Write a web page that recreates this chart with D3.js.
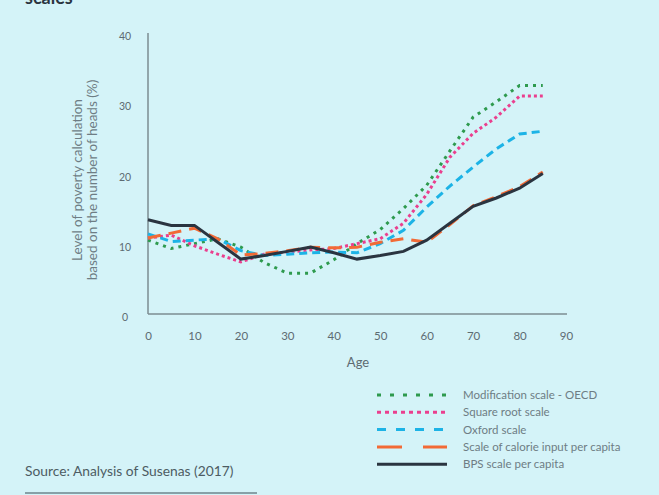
<!DOCTYPE html>
<html>
<head>
<meta charset="utf-8">
<script src="https://cdn.jsdelivr.net/npm/d3@7"></script>
<style>
  body { margin: 0; background: #d4f3f8; }
  svg { display: block; font-family: Lato, "Open Sans", sans-serif; }
</style>
</head>
<body>
<script>
// age groups (x) and poverty rates per scale (%)
var ages = [0, 5, 10, 15, 20, 25, 30, 35, 40, 45, 50, 55, 60, 65, 70, 75, 80, 85];

var oecd     = [10.8, 9.6, 10.3, 11.0, 9.8, 7.6, 6.1, 6.1, 8.0, 10.3, 12.3, 15.3, 18.6, 23.5, 28.3, 30.5, 32.8, 32.8];
var sqroot   = [11.1, 11.5, 10.0, 8.8, 7.7, 8.8, 9.1, 9.4, 9.6, 10.3, 11.0, 13.2, 17.3, 22.6, 26.0, 28.3, 31.3, 31.3];
var oxford   = [11.7, 10.6, 10.8, 11.0, 9.3, 8.6, 8.8, 9.0, 9.1, 9.0, 10.3, 12.2, 15.5, 18.5, 21.2, 23.8, 25.9, 26.3];
var calorie  = [11.1, 11.8, 12.5, 11.0, 8.7, 8.9, 9.3, 9.8, 9.7, 9.8, 10.5, 11.0, 10.5, 13.0, 15.7, 17.0, 18.4, 20.5];
var bps      = [13.7, 12.9, 12.9, 10.5, 8.1, 8.6, 9.2, 9.8, 9.0, 8.1, 8.6, 9.2, 10.8, 13.2, 15.6, 16.8, 18.2, 20.3];

var xTicks = [0, 10, 20, 30, 40, 50, 60, 70, 80, 90];
var yTicks = [0, 10, 20, 30, 40];

var series = [
  {name: "Modification scale - OECD", values: oecd, color: "#2e9a4e", dash: "3,5", legendDash: "4,9"},
  {name: "Square root scale", values: sqroot, color: "#ea3f8e", dash: "3,3", legendDash: "4,4"},
  {name: "Oxford scale", values: oxford, color: "#1cb3e6", dash: "8,5", legendDash: "9,10"},
  {name: "Scale of calorie input per capita", values: calorie, color: "#f26a36", dash: "13,8", legendDash: "25,21"},
  {name: "BPS scale per capita", values: bps, color: "#2a3440", dash: null, legendDash: null}
];

var width = 659, height = 495;

var svg = d3.select("body").append("svg")
    .attr("width", width)
    .attr("height", height);

var x = d3.scaleLinear().domain([0, 90]).range([148, 566]);
var y = d3.scaleLinear().domain([0, 40]).range([316, 35]);

// title (cut off at the top, as in the source layout)
svg.append("text").attr("x", 25).attr("y", 4)
    .attr("font-size", 18).attr("font-weight", "bold")
    .attr("fill", "#2a3440").text("scales");

// axes
var xAxis = svg.append("g").attr("transform", "translate(0,314)")
    .call(d3.axisBottom(x).tickValues(xTicks).tickSize(0).tickPadding(18));
var yAxis = svg.append("g").attr("transform", "translate(148,0)")
    .call(d3.axisLeft(y).tickValues(yTicks).tickSize(0).tickPadding(23));

xAxis.select(".domain").attr("stroke", "#7d8c92").attr("stroke-width", 1.5)
    .attr("d", "M148,0H567");
yAxis.select(".domain").attr("stroke", "#7d8c92").attr("stroke-width", 1.5)
    .attr("d", "M0,33V314");
svg.selectAll(".tick text").attr("fill", "#5d6b72").attr("font-size", 11.5)
    .attr("font-family", "Lato, sans-serif");
yAxis.selectAll(".tick text").attr("text-anchor", "middle").attr("x", -23)
    .attr("dy", "0.45em").attr("font-size", 10.5);

// axis titles
svg.append("text").attr("x", 358).attr("y", 367)
    .attr("text-anchor", "middle").attr("font-size", 13).attr("fill", "#5d6b72").text("Age");
var yt = svg.append("text").attr("transform", "translate(82,180) rotate(-90)")
    .attr("text-anchor", "middle").attr("font-size", 13.5).attr("fill", "#6e7d84");
yt.append("tspan").attr("x", 0).attr("y", 0).text("Level of poverty calculation");
yt.append("tspan").attr("x", 0).attr("y", 15).text("based on the number of heads (%)");

// lines
var line = d3.line()
    .x(function(d, i) { return x(ages[i]); })
    .y(function(d) { return y(d); });

svg.append("g").selectAll("path")
    .data(series)
    .enter().append("path")
    .attr("d", function(d) { return line(d.values); })
    .attr("fill", "none")
    .attr("stroke", function(d) { return d.color; })
    .attr("stroke-width", 3)
    .attr("stroke-dasharray", function(d) { return d.dash; });

// legend
var legend = svg.append("g").selectAll("g")
    .data(series)
    .enter().append("g")
    .attr("transform", function(d, i) { return "translate(377," + (395 + i * 17.3) + ")"; });

legend.append("line")
    .attr("x1", 0).attr("x2", 70)
    .attr("stroke", function(d) { return d.color; })
    .attr("stroke-width", 3)
    .attr("stroke-dasharray", function(d) { return d.legendDash; });

legend.append("text")
    .attr("x", 86).attr("y", 4)
    .attr("font-size", 11.5).attr("fill", "#6e7d84")
    .text(function(d) { return d.name; });

// source
svg.append("text").attr("x", 25).attr("y", 476)
    .attr("font-size", 13.8).attr("fill", "#4d5c63")
    .text("Source: Analysis of Susenas (2017)");
svg.append("line").attr("x1", 25).attr("x2", 257).attr("y1", 493).attr("y2", 493)
    .attr("stroke", "#6e858c").attr("stroke-width", 1.5);
</script>
</body>
</html>
